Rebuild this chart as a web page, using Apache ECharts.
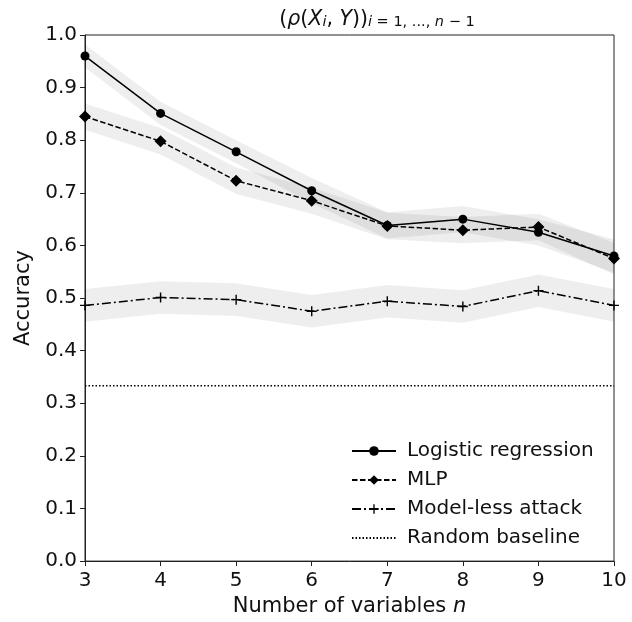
<!DOCTYPE html>
<html><head><meta charset="utf-8">
<script src="https://cdn.jsdelivr.net/npm/echarts@6/dist/echarts.min.js"></script>
<style>html,body{margin:0;padding:0;background:#fff}#c{width:632px;height:622px}</style>
</head><body><div id="c"></div>
<script>
var nVars = ['3', '4', '5', '6', '7', '8', '9', '10'];
var logReg = [0.960, 0.851, 0.778, 0.704, 0.638, 0.650, 0.625, 0.580];
var logRegErr = [0.022, 0.022, 0.022, 0.024, 0.025, 0.025, 0.025, 0.032];
var mlp = [0.845, 0.798, 0.723, 0.685, 0.637, 0.629, 0.635, 0.575];
var mlpErr = [0.025, 0.025, 0.025, 0.025, 0.025, 0.025, 0.025, 0.030];
var modelLess = [0.486, 0.501, 0.497, 0.475, 0.494, 0.484, 0.514, 0.486];
var modelLessErr = [0.031, 0.031, 0.031, 0.031, 0.031, 0.031, 0.031, 0.031];
var baseline = [1/3, 1/3, 1/3, 1/3, 1/3, 1/3, 1/3, 1/3];

var FONT = 'DejaVu Sans';
var TXT = '#111';
var bandColor = 'rgba(0,0,0,0.065)';

function bands(name, vals, err) {
  var lo = vals.map(function (v, i) { return v - err[i]; });
  var wd = err.map(function (e) { return 2 * e; });
  return [
    { name: name + '_lo', type: 'line', stack: name, data: lo, symbol: 'none', silent: true,
      lineStyle: { opacity: 0 }, z: 1 },
    { name: name + '_band', type: 'line', stack: name, data: wd, symbol: 'none', silent: true,
      lineStyle: { opacity: 0 }, areaStyle: { color: bandColor, opacity: 1 }, z: 1 }
  ];
}
var plusPath = 'path://M4.3,0h1.4v4.3h4.3v1.4h-4.3v4.3h-1.4v-4.3h-4.3v-1.4h4.3z';

var series = [].concat(
  bands('lr', logReg, logRegErr),
  bands('mlp', mlp, mlpErr),
  bands('ml', modelLess, modelLessErr),
  [
    { name: 'Logistic regression', type: 'line', data: logReg, symbol: 'circle', symbolSize: 9,
      itemStyle: { color: '#000' }, lineStyle: { color: '#000', width: 1.5, type: 'solid' }, z: 5 },
    { name: 'MLP', type: 'line', data: mlp, symbol: 'diamond', symbolSize: 12,
      itemStyle: { color: '#000' }, lineStyle: { color: '#000', width: 1.5, type: [5.5, 2.5] }, z: 5 },
    { name: 'Model-less attack', type: 'line', data: modelLess, symbol: plusPath, symbolSize: 10,
      itemStyle: { color: '#000' }, lineStyle: { color: '#000', width: 1.5, type: [9, 3, 2, 3] }, z: 5 },
    { name: 'Random baseline', type: 'line', data: baseline,
      symbol: 'none', itemStyle: { color: '#000' }, lineStyle: { color: '#000', width: 1.3, type: [1.5, 2] }, z: 5 }
  ]
);

var rn = { fontFamily: FONT, fontSize: 20.5, fontWeight: 'normal', color: TXT, verticalAlign: 'bottom', lineHeight: 26 };
var ri = Object.assign({}, rn, { fontStyle: 'italic' });
var rs = { fontFamily: FONT, fontSize: 14.5, fontWeight: 'normal', color: TXT, verticalAlign: 'bottom', lineHeight: 16, padding: [9, 0, 0, 0] };
var rsi = Object.assign({}, rs, { fontStyle: 'italic' });

var chart = echarts.init(document.getElementById('c'), null, { renderer: 'canvas' });
chart.setOption({
  animation: false,
  backgroundColor: '#fff',
  textStyle: { fontFamily: FONT },
  grid: { left: 85, right: 18, top: 35, bottom: 56, containLabel: false,
    show: true, borderColor: '#222', borderWidth: 1, backgroundColor: 'transparent' },
  title: {
    left: 372, top: -1, textAlign: 'center',
    text: '{n|(}{i|ρ}{n|(}{i|X}{si|i}{n|, }{i|Y}{n|))}{si|i}{s| = 1, ..., }{si|n}{s| − 1}',
    textStyle: { fontWeight: 'normal', rich: { n: rn, i: ri, s: rs, si: rsi } }
  },
  legend: {
    data: ['Logistic regression', 'MLP', 'Model-less attack',
      { name: 'Random baseline', itemStyle: { opacity: 0 } }],
    orient: 'vertical', left: 346, top: 436,
    itemWidth: 44, itemHeight: 12, itemGap: 9,
    textStyle: { fontFamily: FONT, fontSize: 20, color: TXT, padding: [0, 0, 0, 6] },
    selectedMode: false
  },
  xAxis: {
    type: 'category', data: nVars, boundaryGap: false,
    name: 'Number of variables {it|n}', nameLocation: 'middle', nameGap: 31,
    nameTextStyle: { fontFamily: FONT, fontSize: 21, color: TXT,
      rich: { it: { fontFamily: FONT, fontSize: 21, fontStyle: 'italic', color: TXT } } },
    axisLine: { show: true, onZero: false, lineStyle: { color: '#222', width: 1 } },
    axisTick: { show: true, length: 5, alignWithLabel: true, lineStyle: { color: '#222' } },
    axisLabel: { fontFamily: FONT, fontSize: 20, color: TXT, margin: 10, interval: 0 },
    splitLine: { show: false }
  },
  yAxis: {
    type: 'value', min: 0, max: 1, interval: 0.1,
    name: 'Accuracy', nameLocation: 'middle', nameGap: 41, nameRotate: 90,
    nameTextStyle: { fontFamily: FONT, fontSize: 21, color: TXT },
    axisLine: { show: true, lineStyle: { color: '#222', width: 1 } },
    axisTick: { show: true, length: 5, lineStyle: { color: '#222' } },
    axisLabel: { fontFamily: FONT, fontSize: 20, color: TXT, margin: 8,
      formatter: function (v) { return v.toFixed(1); } },
    splitLine: { show: false }
  },
  series: series
});
</script></body></html>
